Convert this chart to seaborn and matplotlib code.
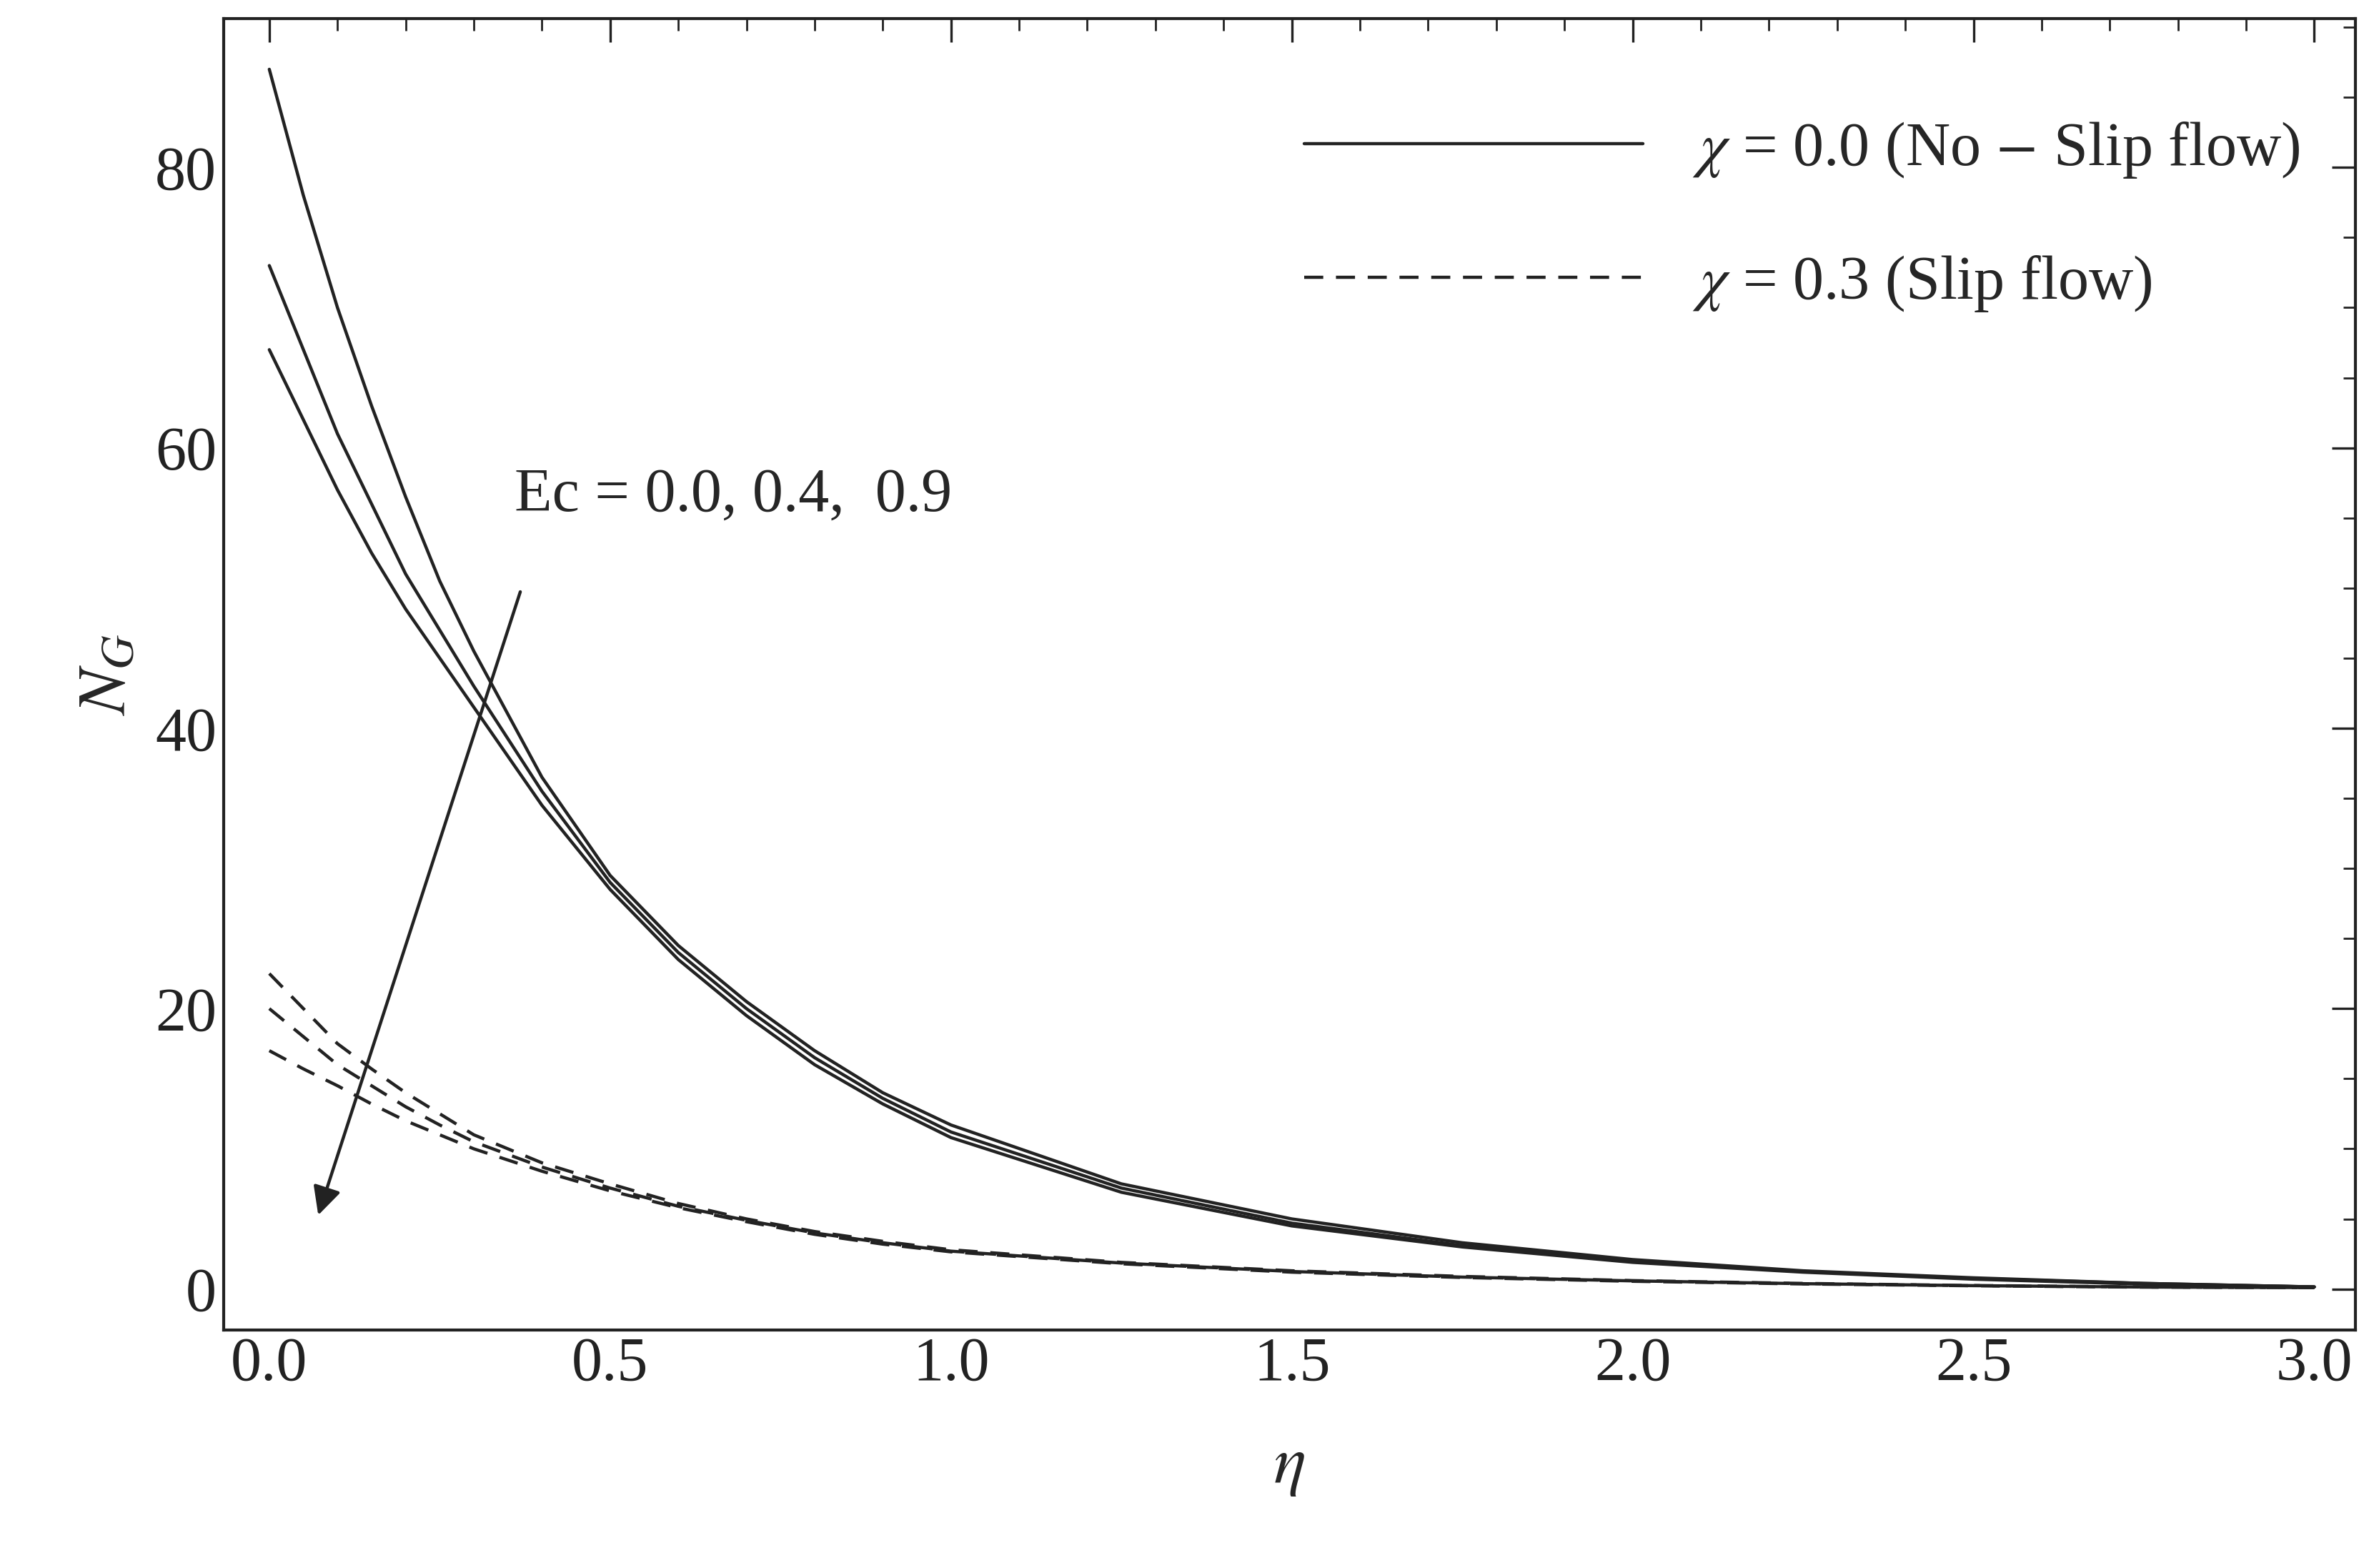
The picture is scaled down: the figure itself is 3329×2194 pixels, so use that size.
import numpy as np
import pandas as pd
import matplotlib.pyplot as plt
import seaborn as sns
from matplotlib.ticker import MultipleLocator

eta = [0.0, 0.05, 0.1, 0.15, 0.2, 0.25, 0.3, 0.4, 0.5, 0.6, 0.7, 0.8, 0.9, 1.0,
       1.25, 1.5, 1.75, 2.0, 2.25, 2.5, 2.75, 3.0]

# chi = 0.0 (no-slip), Ec = 0.0, 0.4, 0.9
ns_ec00 = [87, 78, 70, 63, 56.5, 50.5, 45.5, 36.5, 29.5, 24.5, 20.5, 17, 14, 11.7,
           7.5, 5.0, 3.3, 2.1, 1.3, 0.8, 0.4, 0.15]
ns_ec04 = [73, 67, 61, 56, 51, 47, 43, 35.5, 29, 24, 20, 16.5, 13.6, 11.2,
           7.2, 4.7, 3.1, 2.0, 1.25, 0.75, 0.4, 0.15]
ns_ec09 = [67, 62, 57, 52.5, 48.5, 45, 41.5, 34.5, 28.5, 23.5, 19.5, 16, 13.2, 10.8,
           6.9, 4.5, 3.0, 1.9, 1.2, 0.7, 0.35, 0.15]
# chi = 0.3 (slip)
sl_ec00 = [22.5, 20, 17.5, 15.7, 14, 12.5, 11, 9, 7.5, 6.1, 5.0, 4.1, 3.4, 2.8,
           1.9, 1.3, 0.9, 0.6, 0.4, 0.25, 0.15, 0.1]
sl_ec04 = [20, 18, 16, 14.5, 13, 11.7, 10.5, 8.7, 7.2, 5.9, 4.9, 4.0, 3.3, 2.7,
           1.85, 1.25, 0.85, 0.58, 0.38, 0.24, 0.14, 0.1]
sl_ec09 = [17, 15.7, 14.5, 13.2, 12, 11, 10, 8.4, 7.0, 5.8, 4.8, 3.9, 3.2, 2.65,
           1.8, 1.2, 0.82, 0.55, 0.36, 0.23, 0.13, 0.1]

sns.set_style('white')
plt.rcParams['font.family'] = ['Liberation Serif', 'DejaVu Serif']
plt.rcParams['mathtext.fontset'] = 'stix'

fig = plt.figure(figsize=(3329 / 200, 2194 / 200), dpi=200)
ax = fig.add_axes([0.094, 0.152, 0.896, 0.836])

rows = []
for name, vals, ls in [('ns0', ns_ec00, 's'), ('ns4', ns_ec04, 's'), ('ns9', ns_ec09, 's'),
                       ('sl0', sl_ec00, 'd'), ('sl4', sl_ec04, 'd'), ('sl9', sl_ec09, 'd')]:
    for e, v in zip(eta, vals):
        rows.append({'eta': e, 'NG': v, 'curve': name, 'kind': ls})
df = pd.DataFrame(rows)

for name, g in df.groupby('curve'):
    dashed = g['kind'].iloc[0] == 'd'
    sns.lineplot(data=g, x='eta', y='NG', ax=ax, color='#222222', lw=1.6,
                 linestyle=(0, (6, 4)) if dashed else '-', legend=False)

ax.plot([], [], color='#222222', lw=1.6, label=r'$\chi$ = 0.0 (No $-$ Slip flow)')
ax.plot([], [], color='#222222', lw=1.6, linestyle=(0, (6, 4)), label=r'$\chi$ = 0.3 (Slip flow)')
ax.legend(loc='upper right', frameon=False, fontsize=31, handlelength=5.5,
          bbox_to_anchor=(1.0, 0.965), labelspacing=1.2)

ax.annotate('', xy=(0.07, 5), xytext=(0.37, 50),
            arrowprops=dict(arrowstyle='-|>', color='#222222', lw=1.6, mutation_scale=30))
ax.text(0.36, 55.5, 'Ec = 0.0, 0.4,  0.9', fontsize=31)

ax.set_xlim(-0.067, 3.06)
ax.set_ylim(-2.9, 90.6)
ax.xaxis.set_major_locator(MultipleLocator(0.5))
ax.xaxis.set_minor_locator(MultipleLocator(0.1))
ax.yaxis.set_major_locator(MultipleLocator(20))
ax.yaxis.set_minor_locator(MultipleLocator(5))
ax.tick_params(which='both', direction='in', top=True, right=True, labelsize=31, colors='#222222')
ax.tick_params(which='major', length=12, width=1.2)
ax.tick_params(which='minor', length=6, width=1)
ax.xaxis.set_major_formatter(plt.FuncFormatter(lambda v, p: f'{v:.1f}'))
for s in ax.spines.values():
    s.set_color('#222222')
    s.set_linewidth(1.5)
ax.set_xlabel(r'$\eta$', fontsize=34, labelpad=22)
ax.set_ylabel(r'$N_G$', fontsize=34, labelpad=8)

fig.savefig('out.png', dpi=200)
